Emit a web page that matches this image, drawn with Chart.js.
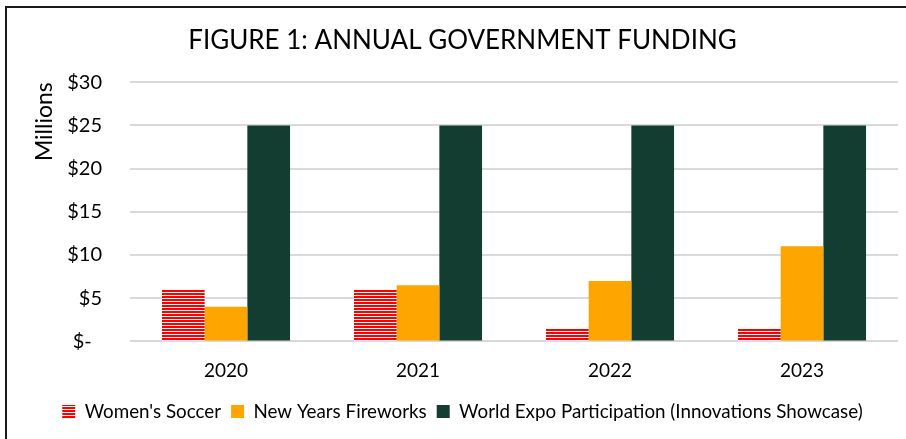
<!DOCTYPE html>
<html>
<head>
<meta charset="utf-8">
<script src="https://cdn.jsdelivr.net/npm/chart.js@4"></script>
<style>
  body { margin: 0; background: #fff; }
  #frame {
    position: absolute; left: 5px; top: 6px;
    width: 910px; height: 440px;
    border-left: 2px solid #1a1a1a; border-top: 2px solid #1a1a1a;
  }
  #wrap { position: absolute; left: 0; top: 0; width: 899px; height: 431px; }
</style>
</head>
<body>
<div id="frame"><div id="wrap"><canvas id="fundChart"></canvas></div></div>
<script>
// chart data
const years = ['2020', '2021', '2022', '2023'];
const soccer = [6, 6, 1.5, 1.5];
const fireworks = [4, 6.5, 7, 11];
const expo = [25, 25, 25, 25];
const seriesNames = ['Women\'s Soccer', 'New Years Fireworks', 'World Expo Participation (Innovations Showcase)'];

// red horizontal stripes for the soccer bars
function stripePattern() {
  const c = document.createElement('canvas');
  c.width = 6; c.height = 3;
  const g = c.getContext('2d');
  g.fillStyle = '#ffffff';
  g.fillRect(0, 0, 6, 3);
  g.fillStyle = '#ff0000';
  g.fillRect(0, 0, 6, 2);
  return g.createPattern(c, 'repeat');
}

const FONT = 'Lato, "Noto Sans", sans-serif';
Chart.defaults.font.family = FONT;
Chart.defaults.color = '#000';

const ctx = document.getElementById('fundChart').getContext('2d');
new Chart(ctx, {
  type: 'bar',
  data: {
    labels: years,
    datasets: [
      { label: seriesNames[0], data: soccer, backgroundColor: stripePattern() },
      { label: seriesNames[1], data: fireworks, backgroundColor: '#ffa500' },
      { label: seriesNames[2], data: expo, backgroundColor: '#133d30' }
    ]
  },
  options: {
    responsive: true,
    maintainAspectRatio: false,
    animation: false,
    layout: { padding: { left: 20, right: 8, top: 3, bottom: 8 } },
    datasets: { bar: { categoryPercentage: 0.667, barPercentage: 1 } },
    scales: {
      x: {
        grid: { display: false },
        border: { display: false },
        ticks: { font: { size: 19 }, padding: 10 }
      },
      y: {
        min: 0, max: 30,
        afterFit: s => { s.width = 103; },
        ticks: {
          stepSize: 5,
          font: { size: 20 },
          padding: 28,
          callback: v => v === 0 ? '$-  ' : '$' + v
        },
        grid: { color: '#d9d9d9', lineWidth: 2, drawTicks: false },
        border: { display: false },
        title: {
          display: true, text: 'Millions', align: 'end',
          font: { size: 23 }, padding: { top: 4, bottom: 4 }
        }
      }
    },
    plugins: {
      title: {
        display: true,
        text: 'FIGURE 1: ANNUAL GOVERNMENT FUNDING',
        font: { size: 26, weight: 'normal' },
        padding: { top: 14, bottom: 26 }
      },
      legend: {
        position: 'bottom',
        labels: { boxWidth: 13, boxHeight: 13, font: { size: 18.8 }, padding: 10 }
      },
      tooltip: { enabled: false }
    }
  }
});
</script>
</body>
</html>
